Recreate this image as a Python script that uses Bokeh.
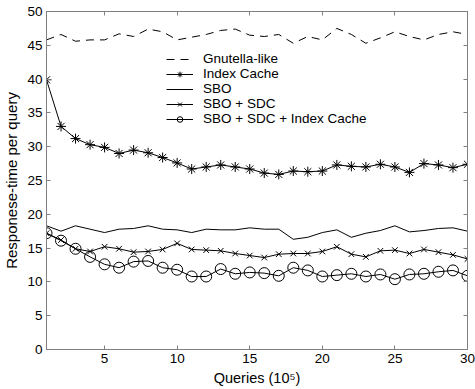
from bokeh.plotting import figure
from bokeh.models import LinearAxis, Range1d, FixedTicker, Legend, LegendItem
from bokeh.embed import file_html
from bokeh.resources import INLINE

queries = list(range(1, 31))
gnutella = [45.8, 46.6, 45.6, 45.8, 45.8, 46.7, 46.3, 47.4, 47.0, 45.8,
            46.2, 46.6, 47.2, 47.4, 46.5, 46.3, 46.6, 45.3, 46.3, 45.8,
            47.5, 46.6, 45.3, 46.1, 47.0, 46.3, 45.8, 46.6, 47.0, 46.6]
index_cache = [39.9, 33.0, 31.2, 30.3, 29.9, 29.0, 29.5, 29.1, 28.4, 27.6,
               26.7, 27.0, 27.3, 27.0, 26.7, 26.1, 25.9, 26.4, 26.3, 26.4,
               27.3, 27.1, 27.0, 27.4, 27.0, 26.2, 27.5, 27.3, 26.9, 27.4]
sbo = [18.3, 17.5, 18.3, 17.8, 17.3, 17.8, 17.9, 18.3, 17.8, 17.7,
       17.3, 17.8, 17.7, 17.7, 18.0, 17.8, 17.8, 16.3, 16.6, 17.3,
       17.7, 16.6, 17.2, 17.6, 18.3, 17.4, 17.6, 17.9, 18.0, 17.5]
sbo_sdc = [17.2, 16.2, 14.9, 14.5, 15.2, 14.9, 14.4, 14.5, 14.8, 15.7,
           14.8, 14.7, 14.6, 14.2, 13.9, 13.6, 14.1, 14.2, 14.2, 14.5,
           15.2, 14.1, 13.7, 14.6, 14.7, 14.2, 14.8, 14.4, 14.0, 13.4]
sbo_sdc_ic = [17.2, 16.1, 14.9, 13.7, 12.6, 12.1, 13.0, 13.1, 12.1, 11.8,
              10.8, 10.8, 11.9, 11.2, 11.4, 11.3, 10.9, 12.1, 11.7, 10.8,
              11.0, 11.2, 10.8, 11.1, 10.4, 11.1, 11.2, 11.5, 11.7, 10.9]

x_ticks = [5, 10, 15, 20, 25, 30]
y_ticks = [0, 5, 10, 15, 20, 25, 30, 35, 40, 45, 50]

FONT = "Liberation Sans"
FS = "13.5px"
AXC = "#808080"

p = figure(width=475, height=389, output_backend="svg", toolbar_location=None,
           x_range=Range1d(1, 30), y_range=Range1d(0, 50),
           min_border_left=42, min_border_right=8, min_border_top=11,
           min_border_bottom=40)
p.xgrid.visible = False
p.ygrid.visible = False
p.outline_line_color = AXC
p.background_fill_color = "white"

def style_axis(ax):
    ax.axis_line_color = AXC
    ax.major_tick_line_color = AXC
    ax.major_tick_in = 4
    ax.major_tick_out = 0
    ax.minor_tick_line_color = None
    ax.major_label_text_font = FONT
    ax.major_label_text_font_size = FS
    ax.major_label_text_color = "black"
    ax.major_label_standoff = 4
    ax.axis_label_text_font = FONT
    ax.axis_label_text_font_style = "normal"
    ax.axis_label_text_color = "black"

p.xaxis.ticker = FixedTicker(ticks=x_ticks)
p.yaxis.ticker = FixedTicker(ticks=y_ticks)
p.xaxis.axis_label = "Queries (10\u2075)"
p.yaxis.axis_label = "Responese-time per query"
style_axis(p.xaxis[0])
style_axis(p.yaxis[0])
p.xaxis.axis_label_text_font_size = "14.5px"
p.yaxis.axis_label_text_font_size = "15px"
p.xaxis.axis_label_standoff = 4
p.yaxis.axis_label_standoff = 4

# top/right axes: tick marks only (drawn as minor ticks, so no labels)
def tick_only_axis(ticks):
    ax = LinearAxis(ticker=FixedTicker(ticks=[], minor_ticks=ticks))
    ax.axis_line_color = AXC
    ax.minor_tick_line_color = AXC
    ax.minor_tick_in = 4
    ax.minor_tick_out = 0
    ax.major_tick_line_color = None
    return ax

p.add_layout(tick_only_axis(x_ticks), "above")
p.add_layout(tick_only_axis(y_ticks), "right")

C = "black"
r_g = p.line(queries, gnutella, line_color=C, line_width=1, line_dash="8 6")
r_ic_l = p.line(queries, index_cache, line_color=C, line_width=1)
r_ic_m = p.scatter(queries, index_cache, marker="asterisk", size=10,
                   line_color=C, line_width=1)
r_s = p.line(queries, sbo, line_color=C, line_width=1)
r_sd_l = p.line(queries, sbo_sdc, line_color=C, line_width=1)
r_sd_m = p.scatter(queries, sbo_sdc, marker="x", size=8, line_color=C, line_width=1)
r_sdi_l = p.line(queries, sbo_sdc_ic, line_color=C, line_width=1)
r_sdi_m = p.scatter(queries, sbo_sdc_ic, marker="circle", size=11,
                    line_color=C, fill_color=None, line_width=1)

legend = Legend(items=[
    LegendItem(label="Gnutella-like", renderers=[r_g]),
    LegendItem(label="Index Cache", renderers=[r_ic_l, r_ic_m]),
    LegendItem(label="SBO", renderers=[r_s]),
    LegendItem(label="SBO + SDC", renderers=[r_sd_l, r_sd_m]),
    LegendItem(label="SBO + SDC + Index Cache", renderers=[r_sdi_l, r_sdi_m]),
], location=(120, 223))
legend.border_line_alpha = 0
legend.background_fill_alpha = 0
legend.padding = 0
legend.margin = 0
legend.spacing = 0
legend.glyph_height = 14
legend.label_height = 14
legend.glyph_width = 27
legend.label_standoff = 10
legend.label_text_font = FONT
legend.label_text_font_size = FS
legend.label_text_color = "black"
p.add_layout(legend)

open("out.html", "w").write(file_html(p, INLINE))
